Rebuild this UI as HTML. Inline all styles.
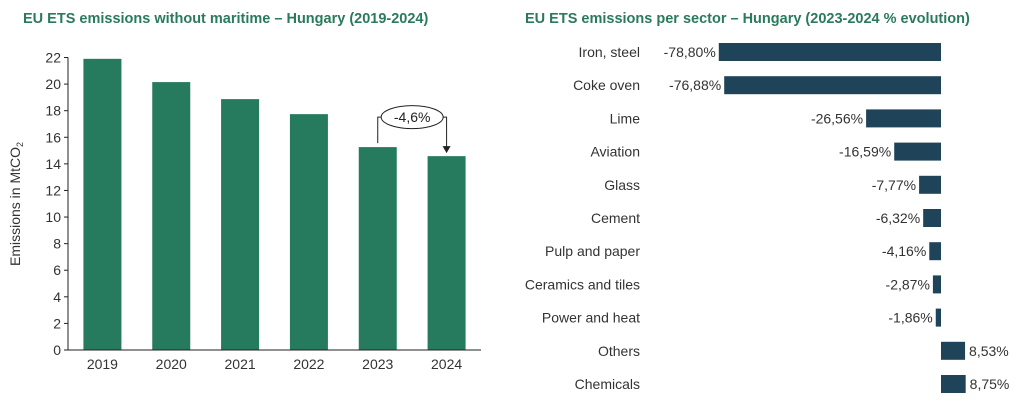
<!DOCTYPE html>
<html><head><meta charset="utf-8"><style>
body{margin:0;background:#fff;width:1024px;height:408px;overflow:hidden;font-family:"Liberation Sans",sans-serif;}
svg text{font-family:"Liberation Sans",sans-serif;}
</style></head><body>
<svg width="1024" height="408">
<text x="23" y="23" font-size="14.5" font-weight="bold" fill="#2a7a5c">EU ETS emissions  without maritime – Hungary (2019-2024)</text>
<text x="525" y="23" font-size="14.5" font-weight="bold" fill="#2a7a5c">EU ETS emissions per sector – Hungary (2023-2024 % evolution)</text>
<g id="left"></g>
<g id="right"></g>
<text transform="translate(20,204) rotate(-90)" text-anchor="middle" font-size="14" fill="#333">Emissions in MtCO<tspan font-size="9" dy="3">2</tspan></text>
</svg>
<script>
const years=["2019","2020","2021","2022","2023","2024"];
const emissions=[21.9,20.15,18.87,17.74,15.26,14.58];
const yTicks=[0,2,4,6,8,10,12,14,16,18,20,22];
const sectors=["Iron, steel","Coke oven","Lime","Aviation","Glass","Cement","Pulp and paper","Ceramics and tiles","Power and heat","Others","Chemicals"];
const changes=[-78.80,-76.88,-26.56,-16.59,-7.77,-6.32,-4.16,-2.87,-1.86,8.53,8.75];
const annotation="-4,6%";
const NS="http://www.w3.org/2000/svg";
function mk(p,t,a){const e=document.createElementNS(NS,t);for(const k in a)e.setAttribute(k,a[k]);p.appendChild(e);return e;}
const L=document.getElementById('left');
const x0=68,x1=481,yb=350,yt=57.5,ymax=22;
const ys=v=>yb-(v/ymax)*(yb-yt);
const bw=(x1-x0)/years.length;
const xc=i=>x0+bw*(i+0.5);
yTicks.forEach(t=>{
 const tk=mk(L,'line',{x1:x0-4,x2:x0,y1:ys(t),y2:ys(t),stroke:'#222'});
 
 const tx=mk(L,'text',{x:x0-7,y:ys(t)+5,'text-anchor':'end','font-size':14,fill:'#333'});tx.textContent=t;
 
});
emissions.forEach((v,i)=>{
 const r=mk(L,'rect',{x:xc(i)-19,y:ys(v),width:38,height:yb-ys(v),fill:'#267a5e'});
 
 const tx=mk(L,'text',{x:xc(i),y:369,'text-anchor':'middle','font-size':14,fill:'#333'});tx.textContent=years[i];
 
});
const ya=mk(L,'line',{x1:x0,x2:x0,y1:yt,y2:yb,stroke:'#222'});
const xa=mk(L,'line',{x1:x0,x2:x1,y1:yb,y2:yb,stroke:'#222'});
// annotation
const a1=xc(4),a2=xc(5),ay=ys(emissions[4])-30;
const ex=(a1+a2)/2;
const g=mk(L,'g',{});
mk(g,'polyline',{points:`${a1},${ys(emissions[4])-4} ${a1},${ay} ${ex-30},${ay}`,fill:'none',stroke:'#222'});
mk(g,'polyline',{points:`${ex+30},${ay} ${a2},${ay} ${a2},${ys(emissions[5])-9}`,fill:'none',stroke:'#222'});
mk(g,'polygon',{points:`${a2-4},${ys(emissions[5])-10} ${a2+4},${ys(emissions[5])-10} ${a2},${ys(emissions[5])-3}`,fill:'#222'});
mk(g,'ellipse',{cx:ex,cy:ay,rx:31,ry:11.5,fill:'#fff',stroke:'#222'});
const at=mk(g,'text',{x:ex,y:ay+5,'text-anchor':'middle','font-size':14,fill:'#222'});at.textContent=annotation;
// right chart
const R=document.getElementById('right');
const zx=941,ppu=2.82,r0=52,rs=33.2,bh=18;
const xs=v=>zx+v*ppu;
sectors.forEach((s,i)=>{
 const cy=r0+rs*i,v=changes[i];
 const r=mk(R,'rect',{x:Math.min(xs(v),zx),y:cy-bh/2,width:Math.abs(xs(v)-zx),height:bh,fill:'#1f4358'});
 
 const lb=mk(R,'text',{x:640,y:cy+5,'text-anchor':'end','font-size':14,fill:'#333'});lb.textContent=s;
 
 const vt=mk(R,'text',{x:v<0?xs(v)-3:xs(v)+4,y:cy+5,'text-anchor':v<0?'end':'start','font-size':14,fill:'#333'});
 vt.textContent=v.toFixed(2).replace('.',',')+'%';
 
});
</script>
</body></html>
